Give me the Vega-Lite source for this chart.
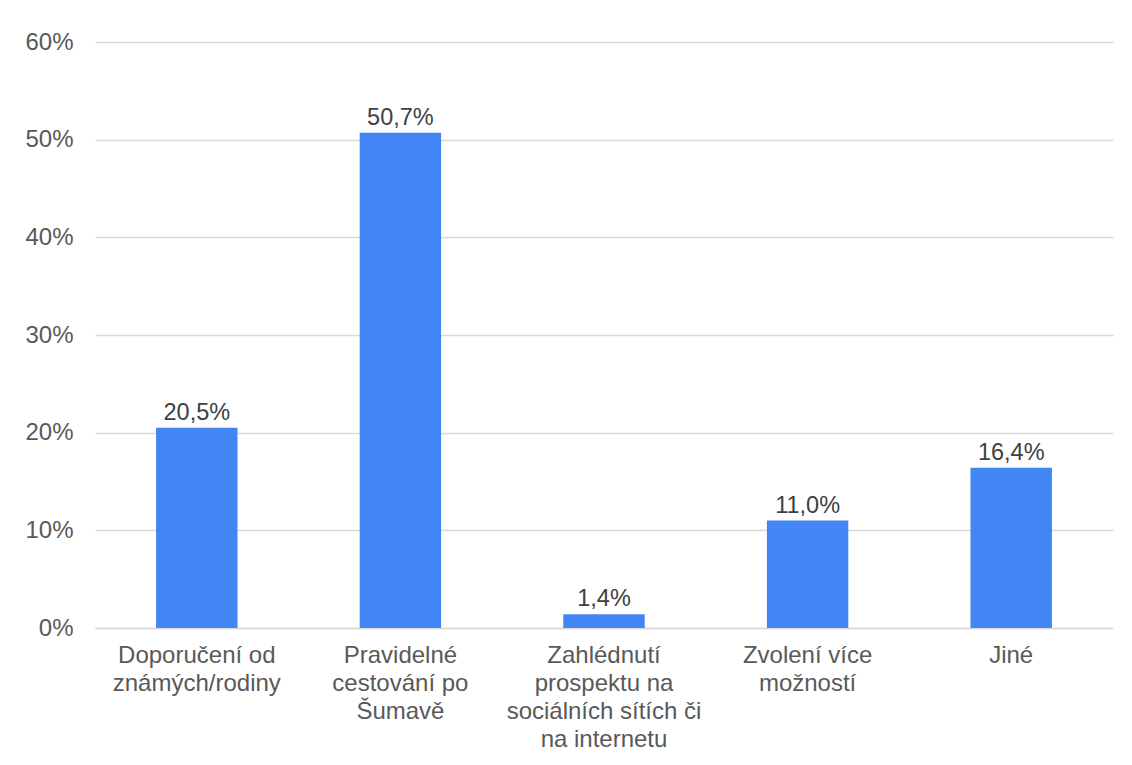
{
  "$schema": "https://vega.github.io/schema/vega-lite/v6.json",
  "width": 1018,
  "height": 586,
  "autosize": {"type": "none"},
  "padding": {"left": 95, "top": 42, "right": 19, "bottom": 137},
  "background": "white",
  "config": {
    "locale": {"number": {"decimal": ",", "thousands": " ", "grouping": [3], "currency": ["", " Kč"]}},
    "view": {"stroke": null},
    "font": "Liberation Sans"
  },
  "data": {
    "values": [
      {"kategorie": "Doporučení od známých/rodiny", "podil": 0.205},
      {"kategorie": "Pravidelné cestování po Šumavě", "podil": 0.507},
      {"kategorie": "Zahlédnutí prospektu na sociálních sítích či na internetu", "podil": 0.014},
      {"kategorie": "Zvolení více možností", "podil": 0.11},
      {"kategorie": "Jiné", "podil": 0.164}
    ]
  },
  "encoding": {
    "x": {
      "field": "kategorie",
      "type": "nominal",
      "sort": null,
      "scale": {"paddingInner": 0.6, "paddingOuter": 0.3},
      "axis": {
        "title": null,
        "labelAngle": 0,
        "domain": true,
        "domainColor": "#d9d9d9",
        "domainWidth": 1.5,
        "ticks": false,
        "labelFont": "Liberation Sans",
        "labelFontSize": 24,
        "labelColor": "#595959",
        "labelPadding": 15,
        "labelLineHeight": 28,
        "labelLimit": 0,
        "labelExpr": "datum.value == 'Doporučení od známých/rodiny' ? ['Doporučení od', 'známých/rodiny'] : datum.value == 'Pravidelné cestování po Šumavě' ? ['Pravidelné', 'cestování po', 'Šumavě'] : datum.value == 'Zahlédnutí prospektu na sociálních sítích či na internetu' ? ['Zahlédnutí', 'prospektu na', 'sociálních sítích či', 'na internetu'] : datum.value == 'Zvolení více možností' ? ['Zvolení více', 'možností'] : datum.value"
      }
    },
    "y": {
      "field": "podil",
      "type": "quantitative",
      "scale": {"domain": [0, 0.6], "nice": false},
      "axis": {
        "title": null,
        "format": ".0%",
        "values": [0, 0.1, 0.2, 0.3, 0.4, 0.5, 0.6],
        "domain": false,
        "ticks": false,
        "grid": true,
        "gridColor": "#d9d9d9",
        "gridWidth": 1.5,
        "labelFont": "Liberation Sans",
        "labelFontSize": 24,
        "labelColor": "#595959",
        "labelPadding": 22
      }
    }
  },
  "layer": [
    {"mark": {"type": "bar", "color": "#4285f4"}},
    {
      "mark": {"type": "text", "baseline": "alphabetic", "dy": -8, "font": "Liberation Sans", "fontSize": 23.5, "color": "#404040"},
      "encoding": {"text": {"field": "podil", "type": "quantitative", "format": ".1%"}}
    }
  ]
}
